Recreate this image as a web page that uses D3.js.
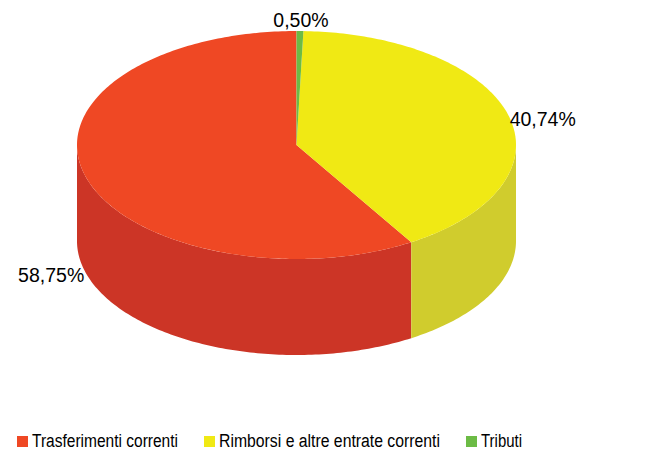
<!DOCTYPE html>
<html lang="it">
<head>
<meta charset="UTF-8">
<title>Entrate correnti</title>
<script src="https://d3js.org/d3.v7.min.js"></script>
<style>
  body { margin: 0; background: #fff; }
  text { font-family: "Liberation Sans", Arial, sans-serif; fill: #000; }
</style>
</head>
<body>
<div id="chart"></div>
<script>
// data, legend order
const categories = ["Trasferimenti correnti", "Rimborsi e altre entrate correnti", "Tributi"];
const values = [58.75, 40.74, 0.50];
const valueLabels = ["58,75%", "40,74%", "0,50%"];
const topColors = ["#ef4824", "#f0e914", "#6cbb45"];
const sideColors = ["#cc3526", "#d0cc2d", "#58a035"];

const width = 651, height = 453;
const cx = 296.5, cy = 145, rx = 219.5, ry = 114, depth = 96;

const svg = d3.select("#chart").append("svg")
  .attr("width", width).attr("height", height);

// counter-clockwise from 12 o'clock so Tributi sits just right of the top
const pie = d3.pie().sort(null).startAngle(2 * Math.PI).endAngle(0);
const arcs = pie(values);

const px = a => cx + rx * Math.sin(a);
const py = a => cy - ry * Math.cos(a);

function topPath(d) {
  const a0 = Math.min(d.startAngle, d.endAngle), a1 = Math.max(d.startAngle, d.endAngle);
  const n = Math.max(4, Math.ceil((a1 - a0) * 60));
  const p = d3.path();
  p.moveTo(cx, cy);
  for (let i = 0; i <= n; i++) {
    const a = a0 + (a1 - a0) * i / n;
    p.lineTo(px(a), py(a));
  }
  p.closePath();
  return p.toString();
}

function sidePath(d) {
  let a0 = Math.max(Math.min(d.startAngle, d.endAngle), Math.PI / 2);
  let a1 = Math.min(Math.max(d.startAngle, d.endAngle), 3 * Math.PI / 2);
  if (a1 <= a0) return null;
  const n = Math.ceil((a1 - a0) * 60);
  const p = d3.path();
  p.moveTo(px(a0), py(a0));
  for (let i = 1; i <= n; i++) {
    const a = a0 + (a1 - a0) * i / n;
    p.lineTo(px(a), py(a));
  }
  for (let i = n; i >= 0; i--) {
    const a = a0 + (a1 - a0) * i / n;
    p.lineTo(px(a), py(a) + depth);
  }
  p.closePath();
  return p.toString();
}

const g = svg.append("g");

g.selectAll("path.side")
  .data(arcs.filter(d => sidePath(d)))
  .join("path")
  .attr("class", "side")
  .attr("d", sidePath)
  .attr("fill", d => sideColors[d.index]);

g.selectAll("path.top")
  .data(arcs)
  .join("path")
  .attr("class", "top")
  .attr("d", topPath)
  .attr("fill", d => topColors[d.index]);

// percentage labels
const labelPos = [
  { dx: -1, dy: 106, anchor: "end" },
  { dx: 1, dy: 10, anchor: "start" },
  { dx: 1, dy: -4, anchor: "middle" }
];
svg.selectAll("text.pct")
  .data(arcs)
  .join("text")
  .attr("class", "pct")
  .attr("x", d => px((d.startAngle + d.endAngle) / 2) + labelPos[d.index].dx)
  .attr("y", d => py((d.startAngle + d.endAngle) / 2) + labelPos[d.index].dy)
  .attr("text-anchor", d => labelPos[d.index].anchor)
  .attr("font-size", 19.5)
  .text(d => valueLabels[d.index]);

// legend
const legendX = [17, 204, 466];
const legendW = [146, 221, 41];
const legend = svg.selectAll("g.legend")
  .data(categories)
  .join("g")
  .attr("class", "legend")
  .attr("transform", (d, i) => `translate(${legendX[i]},447)`);
legend.append("rect")
  .attr("x", 0).attr("y", -11).attr("width", 11).attr("height", 11)
  .attr("fill", (d, i) => topColors[i]);
legend.append("text")
  .attr("x", 15).attr("y", 0)
  .attr("font-size", 18)
  .attr("textLength", (d, i) => legendW[i])
  .attr("lengthAdjust", "spacingAndGlyphs")
  .text(d => d);
</script>
</body>
</html>
